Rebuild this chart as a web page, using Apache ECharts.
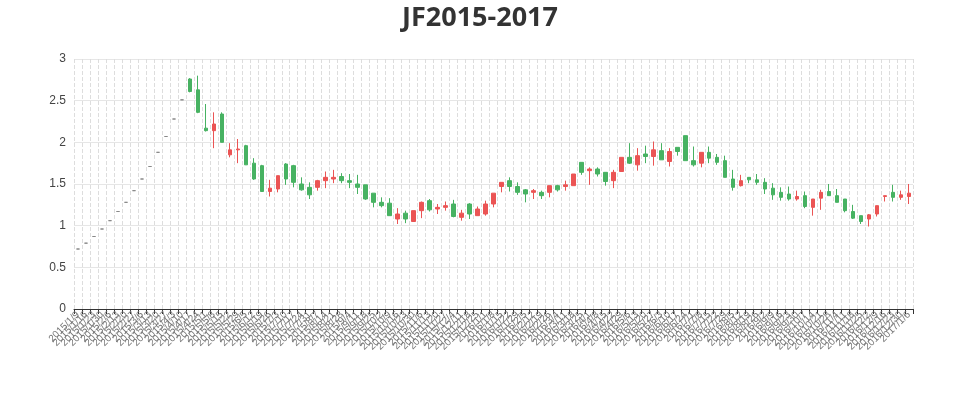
<!DOCTYPE html>
<html>
<head>
<meta charset="utf-8">
<script src="https://cdn.jsdelivr.net/npm/echarts@6/dist/echarts.min.js"></script>
<style>html,body{margin:0;padding:0;background:#fff}#main{width:960px;height:400px}</style>
</head>
<body>
<div id="main"></div>
<script>
var titleText = 'JF2015-2017';
var dates = [
'2015/1/9','2015/1/16','2015/1/23','2015/1/30','2015/2/6','2015/2/13','2015/2/20','2015/2/27',
'2015/3/6','2015/3/13','2015/3/20','2015/3/27','2015/4/3','2015/4/10','2015/4/17','2015/4/24',
'2015/5/1','2015/5/8','2015/5/15','2015/5/22','2015/5/29','2015/6/5','2015/6/12','2015/6/19','2015/6/26',
'2015/7/3','2015/7/10','2015/7/17','2015/7/24','2015/7/31','2015/8/7','2015/8/14','2015/8/21','2015/8/28',
'2015/9/4','2015/9/11','2015/9/18','2015/9/25','2015/10/2','2015/10/9','2015/10/16','2015/10/23','2015/10/30',
'2015/11/6','2015/11/13','2015/11/20','2015/11/27','2015/12/4','2015/12/11','2015/12/18','2015/12/25',
'2016/1/1','2016/1/8','2016/1/15','2016/1/22','2016/1/29','2016/2/5','2016/2/12','2016/2/19','2016/2/26',
'2016/3/4','2016/3/11','2016/3/18','2016/3/25','2016/4/1','2016/4/8','2016/4/15','2016/4/22','2016/4/29',
'2016/5/6','2016/5/13','2016/5/20','2016/5/27','2016/6/3','2016/6/10','2016/6/17','2016/6/24',
'2016/7/1','2016/7/8','2016/7/15','2016/7/22','2016/7/29','2016/8/5','2016/8/12','2016/8/19','2016/8/26',
'2016/9/2','2016/9/9','2016/9/16','2016/9/23','2016/9/30','2016/10/7','2016/10/14','2016/10/21','2016/10/28',
'2016/11/4','2016/11/11','2016/11/18','2016/11/25','2016/12/2','2016/12/9','2016/12/16','2016/12/23','2016/12/30',
'2017/1/6'
];
var opens = [
0.72,0.79,0.87,0.96,1.06,1.17,1.28,1.42,1.56,1.71,1.88,2.07,2.28,2.51,
2.76,2.63,2.17,2.14,2.34,1.85,1.91,1.96,1.75,1.72,1.41,1.44,1.74,1.72,1.50,1.46,
1.46,1.54,1.56,1.59,1.54,1.50,1.49,1.39,1.28,1.27,1.08,1.15,1.05,1.18,1.30,1.20,
1.22,1.26,1.10,1.26,1.12,1.14,1.26,1.47,1.54,1.47,1.43,1.40,1.40,1.40,1.48,1.47,
1.48,1.76,1.66,1.68,1.64,1.54,1.65,1.82,1.73,1.86,1.83,1.90,1.77,1.94,2.08,1.78,
1.75,1.88,1.82,1.78,1.56,1.48,1.58,1.55,1.52,1.45,1.40,1.38,1.32,1.36,1.22,1.33,
1.41,1.36,1.32,1.17,1.12,1.08,1.14,1.35,1.40,1.34,1.35
];
var closes = [
0.72,0.79,0.87,0.96,1.06,1.17,1.28,1.42,1.56,1.71,1.88,2.07,2.28,2.51,
2.61,2.36,2.14,2.22,2.00,1.91,1.92,1.73,1.56,1.41,1.45,1.60,1.56,1.52,1.43,1.37,
1.54,1.58,1.58,1.54,1.52,1.46,1.32,1.28,1.24,1.12,1.14,1.08,1.18,1.28,1.19,1.22,
1.24,1.11,1.15,1.14,1.20,1.26,1.39,1.52,1.47,1.40,1.38,1.42,1.36,1.48,1.43,1.49,
1.62,1.64,1.68,1.62,1.53,1.64,1.82,1.75,1.84,1.83,1.91,1.79,1.89,1.89,1.78,1.73,
1.88,1.81,1.76,1.58,1.46,1.54,1.55,1.52,1.44,1.37,1.34,1.32,1.35,1.23,1.32,1.40,
1.36,1.28,1.18,1.09,1.05,1.13,1.24,1.36,1.34,1.37,1.39
];
var lows = [
0.72,0.79,0.87,0.96,1.06,1.17,1.28,1.42,1.56,1.71,1.88,2.07,2.28,2.51,
2.60,2.35,2.13,1.93,2.00,1.82,1.75,1.73,1.55,1.41,1.35,1.40,1.49,1.46,1.42,1.32,
1.42,1.45,1.51,1.51,1.45,1.38,1.31,1.22,1.22,1.12,1.02,1.03,1.05,1.09,1.17,1.14,
1.18,1.10,1.06,1.08,1.12,1.12,1.22,1.40,1.41,1.37,1.28,1.32,1.32,1.34,1.41,1.42,
1.48,1.61,1.49,1.59,1.48,1.45,1.65,1.74,1.66,1.75,1.72,1.79,1.71,1.84,1.78,1.71,
1.70,1.75,1.73,1.58,1.42,1.47,1.51,1.49,1.38,1.31,1.30,1.30,1.30,1.21,1.12,1.19,
1.36,1.28,1.16,1.08,1.02,0.99,1.11,1.29,1.29,1.31,1.26
];
var highs = [
0.72,0.79,0.87,0.96,1.06,1.17,1.28,1.42,1.56,1.71,1.88,2.07,2.28,2.51,
2.77,2.80,2.46,2.36,2.36,1.99,2.04,1.97,1.81,1.73,1.55,1.60,1.75,1.73,1.58,1.52,
1.55,1.65,1.67,1.63,1.62,1.61,1.49,1.39,1.34,1.33,1.21,1.18,1.18,1.29,1.32,1.26,
1.29,1.31,1.19,1.27,1.23,1.30,1.39,1.52,1.58,1.52,1.44,1.44,1.42,1.48,1.49,1.54,
1.62,1.76,1.70,1.70,1.64,1.67,1.82,1.99,1.93,1.96,2.01,1.99,1.93,1.94,2.08,1.95,
1.88,1.95,1.86,1.84,1.67,1.61,1.58,1.62,1.57,1.51,1.46,1.47,1.42,1.41,1.32,1.43,
1.50,1.44,1.32,1.25,1.12,1.14,1.24,1.36,1.49,1.42,1.50
];
var yTicks = {min: 0, max: 3, interval: 0.5};

var kData = dates.map(function (d, i) { return [opens[i], closes[i], lows[i], highs[i]]; });

var chart = echarts.init(document.getElementById('main'), null, {renderer: 'canvas'});
chart.setOption({
  animation: false,
  backgroundColor: '#fff',
  title: {
    text: titleText,
    left: 'center',
    top: 0,
    textStyle: {fontSize: 27, fontWeight: 'bold', color: '#333', fontFamily: 'Open Sans, Noto Sans, sans-serif'}
  },
  grid: {left: 74, right: 47, top: 59, bottom: 91},
  xAxis: {
    type: 'category',
    data: dates,
    boundaryGap: true,
    axisLine: {show: true, lineStyle: {color: '#333'}},
    axisTick: {show: true, interval: 0, length: 5, lineStyle: {color: '#333'}},
    axisLabel: {interval: 0, rotate: 45, fontSize: 10, color: '#777', margin: 4},
    splitLine: {show: true, interval: 0, lineStyle: {color: '#ddd', type: 'dashed'}}
  },
  yAxis: {
    type: 'value',
    min: yTicks.min,
    max: yTicks.max,
    interval: yTicks.interval,
    axisLine: {show: false},
    axisTick: {show: false},
    axisLabel: {color: '#444', fontSize: 12},
    splitLine: {show: true, lineStyle: {color: '#e6e6e6'}}
  },
  series: [{
    type: 'candlestick',
    data: kData,
    itemStyle: {
      color: '#eb5454', color0: '#47b262',
      borderColor: '#eb5454', borderColor0: '#47b262',
      borderColorDoji: '#888'
    }
  }]
});
</script>
</body>
</html>
